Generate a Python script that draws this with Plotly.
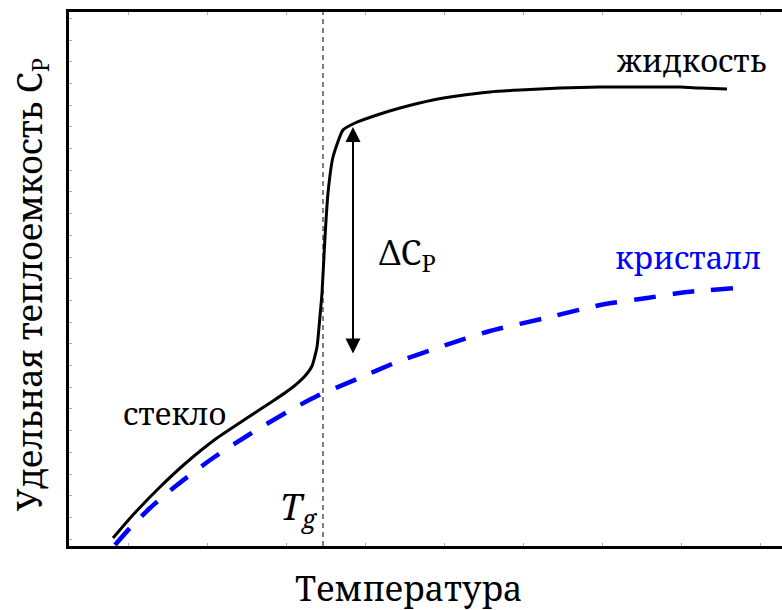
import plotly.graph_objects as go

# Values (temperature in arbitrary units, Cp in arbitrary units)
glass_liquid_T = [113, 132, 160, 187, 217, 247, 273, 293, 305, 312, 317, 320, 322, 325, 328, 333, 343, 355, 377, 400, 433, 457, 490, 520, 560, 600, 640, 680, 700, 727]
glass_liquid_Cp = [8, 30, 59, 84, 108, 128, 145, 159, 170, 180, 199, 230, 253, 309, 353, 389, 416, 423, 431, 438, 446, 450, 454, 456, 458, 459, 459, 459, 458, 457]

crystal_T = [115, 130, 150, 177, 213, 250, 287, 317, 357, 397, 440, 490, 550, 600, 647, 687, 737]
crystal_Cp = [1, 18, 38, 61, 88, 112, 134, 150, 167, 184, 199, 215, 229, 241, 248, 254, 258]

Tg = 323
arrow_T = 353
arrow_top_Cp = 419
arrow_bottom_Cp = 191

FONT = "Noto Serif"

fig = go.Figure()
fig.add_trace(go.Scatter(x=glass_liquid_T, y=glass_liquid_Cp, mode="lines",
                         line=dict(color="black", width=3, shape="spline", smoothing=0.5),
                         hoverinfo="skip", showlegend=False))
fig.add_trace(go.Scatter(x=crystal_T, y=crystal_Cp, mode="lines",
                         line=dict(color="#0000ff", width=4.5, dash="22px,17px", shape="spline", smoothing=0.6),
                         hoverinfo="skip", showlegend=False))
fig.add_trace(go.Scatter(x=[Tg, Tg], y=[0, 534], mode="lines",
                         line=dict(color="black", width=1, dash="5px,4px"),
                         hoverinfo="skip", showlegend=False))

fig.add_annotation(x=arrow_T, y=arrow_top_Cp, ax=arrow_T, ay=arrow_bottom_Cp,
                   xref="x", yref="y", axref="x", ayref="y", text="",
                   showarrow=True, arrowhead=2, startarrowhead=2, arrowside="end+start",
                   arrowsize=1.5, startarrowsize=1.5, arrowwidth=2, arrowcolor="black")

def label(x, y, text, color="black", size=30):
    fig.add_annotation(x=x, y=y, xref="x", yref="y", text=text, showarrow=False,
                       font=dict(family=FONT, size=size, color=color),
                       xanchor="center", yanchor="middle")

label(691, 486, "жидкость", size=31)
label(688, 289, "кристалл", color="#0000ff", size=31)
label(175, 133, "стекло", size=31)
label(407, 292, "ΔC<sub>P</sub>", size=34)
label(299, 38, "<i>T</i><sub><i>g</i></sub>", size=36)

# axis titles
fig.add_annotation(x=(408 - 69) / 713, y=-(588 - 546) / 534, xref="paper", yref="paper",
                   text="Температура", showarrow=False,
                   font=dict(family=FONT, size=34, color="black"),
                   xanchor="center", yanchor="middle")
fig.add_annotation(x=-(69 - 31) / 713, y=(546 - 285) / 534, xref="paper", yref="paper",
                   text="Удельная теплоемкость C<sub>P</sub>", showarrow=False, textangle=-90,
                   font=dict(family=FONT, size=34, color="black"),
                   xanchor="center", yanchor="middle")

fig.update_xaxes(range=[69, 782], showline=True, linecolor="black", linewidth=3,
                 mirror="ticks", ticks="inside", ticklen=3, tickwidth=1, tickcolor="#aaaaaa",
                 tick0=128, dtick=79, showticklabels=False, showgrid=False, zeroline=False)
fig.update_yaxes(range=[0, 534], showline=True, linecolor="black", linewidth=3,
                 ticks="inside", ticklen=3, tickwidth=1, tickcolor="#aaaaaa",
                 tick0=506, dtick=21.7, showticklabels=False, showgrid=False, zeroline=False)

fig.update_layout(width=782, height=610, margin=dict(l=69, r=0, t=12, b=64),
                  plot_bgcolor="white", paper_bgcolor="white")

fig.write_html("out.html")
